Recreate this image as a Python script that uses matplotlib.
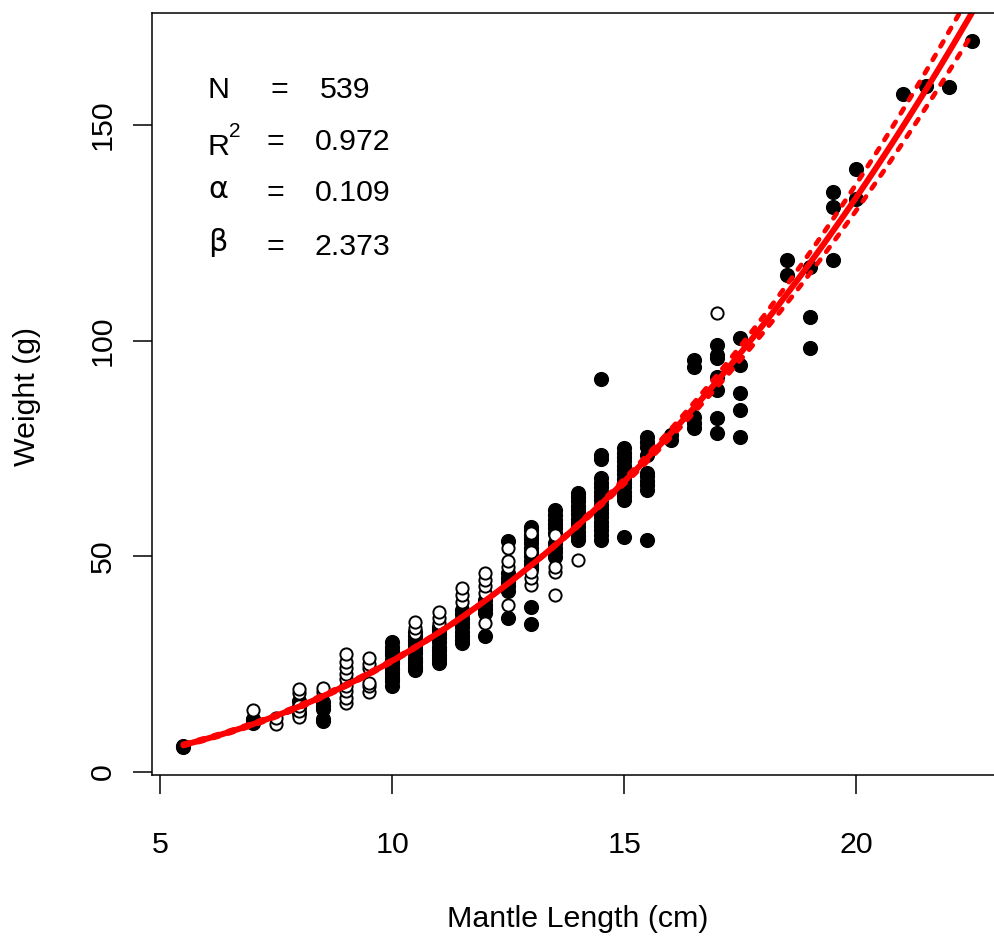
import numpy as np
import matplotlib.pyplot as plt

# length-weight fit printed on the chart: W = alpha * L^beta
N_FISH = 539
R2 = 0.972
ALPHA = 0.109
BETA = 2.373
# dashed confidence band, as the (alpha, beta) pairs of its two edges
ALPHA_UP, BETA_UP = 0.0966, 2.421
ALPHA_LO, BETA_LO = 0.1230, 2.325

# filled points: mantle length (cm) and the weights (g) read at each length
black_cols = [5.5, 7.0, 8.0, 8.5, 10.0, 10.5, 11.0, 11.5, 12.0, 12.5, 13.0,
              13.5, 14.0, 14.5, 15.0, 15.5, 16.0, 16.5, 17.0, 17.5, 18.5,
              19.0, 19.5, 20.0, 21.0, 21.5, 22.0, 22.5]
black_wts = [
    [5.8, 6.0],
    [11.4, 12.0, 12.3],
    [13.7, 15.0, 16.5],
    [11.9, 12.3, 14.5, 15.3, 16.1],
    [20.0, 21.0, 21.5, 22.0, 23.0, 23.5, 24.0, 25.0, 25.5, 26.0, 27.0, 27.5,
     28.0, 29.0, 30.0],
    [23.6, 24.0, 24.5, 25.5, 26.0, 26.5, 27.5, 28.0, 28.5, 29.5, 30.0, 30.5,
     31.5, 32.5],
    [25.2, 26.0, 26.5, 27.0, 28.0, 28.5, 29.0, 30.0, 31.0, 32.0, 33.0, 33.6],
    [29.8, 30.5, 31.5, 32.5, 33.5, 34.5, 35.5, 36.5, 37.5],
    [31.5, 36.8, 37.8, 38.8, 39.8],
    [35.6, 42.0, 43.0, 44.0, 45.0, 46.0, 53.5],
    [34.4, 38.2, 47.0, 48.0, 49.0, 50.0, 51.0, 52.0, 53.0, 54.0, 55.0, 56.0,
     56.8],
    [49.8, 51.0, 52.0, 53.0, 55.3, 56.5, 57.5, 58.5, 59.5, 60.7],
    [53.7, 54.7, 55.7, 56.7, 57.7, 58.7, 59.7, 60.7, 61.7, 62.7, 63.7, 64.6],
    [53.7, 55.0, 56.0, 57.0, 58.0, 59.0, 60.0, 61.0, 62.0, 63.0, 64.0, 65.0,
     66.0, 67.0, 68.1, 72.5, 73.5, 91.2],
    [54.4, 63.0, 64.0, 65.0, 66.0, 67.0, 68.0, 69.0, 70.0, 71.0, 72.0, 73.0,
     74.0, 75.1],
    [53.7, 65.3, 66.5, 67.5, 68.5, 69.3, 73.5, 75.3, 76.5, 77.7],
    [77.0, 78.1],
    [79.8, 81.0, 82.3, 94.0, 95.6],
    [78.6, 82.1, 88.6, 91.6, 96.0, 96.7, 98.9],
    [77.7, 84.0, 87.9, 94.4, 100.7],
    [115.3, 118.8],
    [98.4, 105.6, 117.2],
    [118.8, 130.9, 134.4],
    [132.8, 139.8],
    [157.2],
    [159.0],
    [158.8],
    [169.4],
]

# open points
white_cols = [7.0, 7.5, 8.0, 8.5, 9.0, 9.5, 10.5, 11.0, 11.5, 12.0, 12.5,
              13.0, 13.5, 14.0, 17.0]
white_wts = [
    [14.4],
    [11.2, 12.5],
    [12.7, 14.0, 15.3, 18.3, 19.3],
    [18.4, 19.5],
    [16.0, 17.2, 18.8, 20.0, 21.6, 22.8, 24.0, 25.4, 27.4],
    [18.4, 20.0, 20.7, 24.0, 25.1, 26.5],
    [32.3, 33.3, 34.7],
    [34.5, 35.6, 37.0],
    [39.4, 41.0, 42.6],
    [34.5, 41.4, 43.0, 44.5, 46.0],
    [38.6, 47.5, 49.0, 52.0],
    [43.3, 45.0, 46.3, 50.9, 55.3],
    [41.0, 46.3, 47.4, 54.9],
    [49.1],
    [106.5],
]

x_ticks = [5, 10, 15, 20]
y_ticks = [0, 50, 100, 150]


def expand(cols, wts):
    xs, ys = [], []
    for c, w in zip(cols, wts):
        xs += [c] * len(w)
        ys += w
    return xs, ys


W, H = 995, 936
plt.rcParams['font.family'] = ['Liberation Sans', 'DejaVu Sans']
FS = 21.9

fig = plt.figure(figsize=(W / 100, H / 100), dpi=100)
# the right edge of the plot box lies just outside the picture
ax = fig.add_axes([151.7 / W, 1 - 775 / H, 852.3 / W, 761.7 / H])

bx, by = expand(black_cols, black_wts)
wx, wy = expand(white_cols, white_wts)
ax.plot(bx, by, 'o', ms=9.9, mfc='black', mec='black', mew=1.0,
        ls='none', clip_on=False)
ax.plot(wx, wy, 'o', ms=8.8, mfc='white', mec='black', mew=1.4,
        ls='none', clip_on=False)

L = np.linspace(5.5, 22.5, 200)
ax.plot(L, ALPHA * L ** BETA, color='red', lw=4.3, solid_capstyle='round')
for a, b in [(ALPHA_UP, BETA_UP), (ALPHA_LO, BETA_LO)]:
    ax.plot(L, a * L ** b, color='red', lw=3.4, dashes=(1.2, 2.1),
            dash_capstyle='round')

ax.set_xlim(4.82, 23.18)
ax.set_ylim(-0.74, 175.94)
ax.set_xticks(x_ticks)
ax.set_yticks(y_ticks)
for s in ax.spines.values():
    s.set_linewidth(1.1)
ax.tick_params(axis='both', direction='out', length=13.7, width=1.1,
               labelsize=FS, colors='black')
ax.tick_params(axis='x', pad=26.6)
ax.tick_params(axis='y', pad=11.2, labelrotation=90)
plt.setp(ax.get_yticklabels(), va='center', ha='right')

fig.text(578 / W, 1 - 927 / H, 'Mantle Length (cm)', fontsize=FS,
         ha='center', va='baseline')
fig.text(35 / W, 1 - 397 / H, 'Weight (g)', fontsize=FS, rotation=90,
         rotation_mode='anchor', ha='center', va='baseline')


def put(x, y, s, **kw):
    kw.setdefault('fontsize', FS)
    fig.text(x / W, 1 - y / H, s, ha='left', va='baseline', **kw)


put(208, 98, 'N')
put(270, 98, '=')
put(320, 98, str(N_FISH))
put(208, 155, 'R')
put(229, 137, '2', fontsize=15)
put(266, 150, '=')
put(315, 150, f'{R2:.3f}')
put(208, 198, '\u03b1', family='DejaVu Sans')
put(266, 201, '=')
put(315, 201, f'{ALPHA:.3f}')
put(208, 251, '\u03b2', family='DejaVu Sans')
put(266, 255, '=')
put(315, 255, f'{BETA:.3f}')

fig.savefig('out.png', dpi=100)
